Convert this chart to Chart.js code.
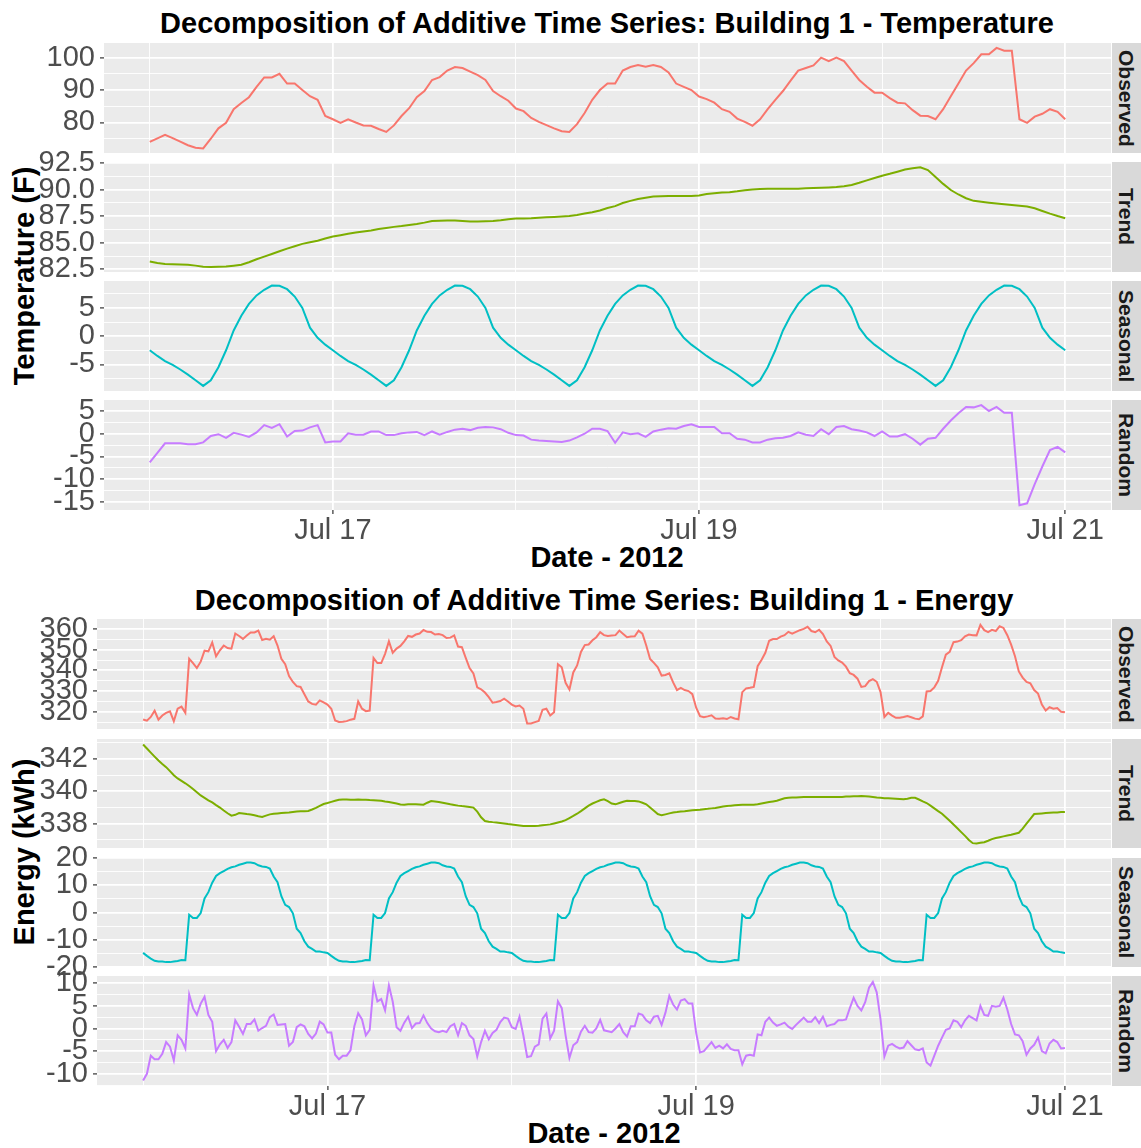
<!DOCTYPE html>
<html>
<head>
<meta charset="utf-8">
<title>Decomposition of Additive Time Series: Building 1</title>
<script src="https://cdn.jsdelivr.net/npm/chart.js@4.4.1/dist/chart.umd.min.js"></script>
<style>
  html, body { margin: 0; padding: 0; background: #fff; }
  #page { position: relative; width: 1141px; height: 1148px; overflow: hidden; background: #fff;
          font-family: "Liberation Sans", Arial, sans-serif; }
  #page canvas { position: absolute; left: 0; }
  .title, .xlab, .ylab { position: absolute; font-weight: bold; font-size: 29px; line-height: 1;
          color: #000; white-space: nowrap; }
  .title, .xlab { transform: translate(-50%, -50%); }
  .ylab { transform: translate(-50%, -50%) rotate(-90deg); }
  .strip { position: absolute; left: 1112px; width: 29px; background: #D9D9D9;
           display: flex; align-items: center; justify-content: center; }
  .strip span { writing-mode: vertical-rl; font-weight: bold; font-size: 21px; line-height: 1; color: #1A1A1A; }
</style>
</head>
<body>
<div id="page">
  <div class="title" style="left:607px;top:23px">Decomposition of Additive Time Series: Building 1 - Temperature</div>
  <div class="ylab" style="left:24px;top:276px">Temperature (F)</div>
  <div class="xlab" style="left:607px;top:557px">Date - 2012</div>

  <div class="title" style="left:604px;top:600px">Decomposition of Additive Time Series: Building 1 - Energy</div>
  <div class="ylab" style="left:24px;top:852px">Energy (kWh)</div>
  <div class="xlab" style="left:604px;top:1133px">Date - 2012</div>
</div>
<script>
// hourly temperature components, Jul 16 00:00 .. Jul 21 00:00
const tempObserved = [
  74.0, 75.1, 76.2, 75.2, 74.1, 73.0, 72.2, 72.0, 75.0, 78.2,
  79.9, 84.1, 86.0, 87.8, 91.0, 93.9, 93.9, 95.0, 92.0, 92.0,
  90.0, 88.1, 87.0, 82.0, 81.0, 79.9, 81.0, 80.0, 79.1, 79.0,
  78.0, 77.1, 79.1, 82.0, 84.4, 87.8, 89.7, 93.1, 94.0, 96.0,
  97.1, 96.8, 95.7, 94.6, 93.1, 89.7, 88.1, 86.7, 84.3, 83.5,
  81.4, 80.2, 79.2, 78.2, 77.3, 77.1, 79.5, 82.9, 87.0, 90.0,
  92.0, 92.0, 96.0, 97.1, 97.7, 97.2, 97.7, 97.1, 95.4, 92.0,
  91.0, 90.0, 88.0, 87.2, 86.1, 84.1, 83.3, 81.2, 80.2, 79.0,
  81.0, 84.1, 87.0, 89.7, 92.9, 96.0, 96.8, 97.6, 100.0, 98.9,
  100.0, 98.9, 96.0, 93.1, 91.0, 89.2, 89.2, 87.5, 86.1, 85.9,
  83.8, 82.1, 82.0, 81.0, 84.1, 88.1, 92.0, 96.0, 98.3, 101.0,
  101.0, 103.0, 102.1, 102.1, 81.0, 79.9, 81.8, 82.7, 84.1, 83.3, 81.0
];
const tempTrend = [
  83.24, 83.10, 83.00, 82.97, 82.95, 82.93, 82.85, 82.75, 82.72, 82.74,
  82.76, 82.84, 82.93, 83.17, 83.45, 83.70, 83.95, 84.20, 84.45, 84.68,
  84.90, 85.05, 85.20, 85.40, 85.59, 85.72, 85.86, 85.96, 86.06, 86.16,
  86.30, 86.40, 86.50, 86.58, 86.68, 86.78, 86.90, 87.05, 87.08, 87.10,
  87.10, 87.05, 87.00, 87.00, 87.02, 87.05, 87.12, 87.22, 87.28, 87.30,
  87.31, 87.36, 87.40, 87.44, 87.48, 87.52, 87.62, 87.75, 87.88, 88.05,
  88.28, 88.45, 88.75, 88.95, 89.12, 89.25, 89.35, 89.39, 89.41, 89.41,
  89.41, 89.41, 89.45, 89.60, 89.67, 89.73, 89.77, 89.85, 89.96, 90.02,
  90.06, 90.08, 90.10, 90.10, 90.10, 90.10, 90.13, 90.16, 90.19, 90.22,
  90.26, 90.33, 90.45, 90.65, 90.88, 91.10, 91.32, 91.50, 91.70, 91.90,
  92.03, 92.12, 91.85, 91.20, 90.55, 89.97, 89.55, 89.20, 88.95, 88.86,
  88.78, 88.70, 88.62, 88.55, 88.48, 88.41, 88.26, 88.00, 87.75, 87.52, 87.31
];
const tempSeasonal = [
  -2.5, -3.5, -4.4, -5.1, -5.9, -6.8, -7.8, -8.8, -7.8, -5.5, -2.5, 1.0, 3.6, 5.7, 7.2, 8.2, 8.95, 8.9, 8.3, 7.0, 5.0, 1.5, -0.3, -1.5,
  -2.5, -3.5, -4.4, -5.1, -5.9, -6.8, -7.8, -8.8, -7.8, -5.5, -2.5, 1.0, 3.6, 5.7, 7.2, 8.2, 8.95, 8.9, 8.3, 7.0, 5.0, 1.5, -0.3, -1.5,
  -2.5, -3.5, -4.4, -5.1, -5.9, -6.8, -7.8, -8.8, -7.8, -5.5, -2.5, 1.0, 3.6, 5.7, 7.2, 8.2, 8.95, 8.9, 8.3, 7.0, 5.0, 1.5, -0.3, -1.5,
  -2.5, -3.5, -4.4, -5.1, -5.9, -6.8, -7.8, -8.8, -7.8, -5.5, -2.5, 1.0, 3.6, 5.7, 7.2, 8.2, 8.95, 8.9, 8.3, 7.0, 5.0, 1.5, -0.3, -1.5,
  -2.5, -3.5, -4.4, -5.1, -5.9, -6.8, -7.8, -8.8, -7.8, -5.5, -2.5, 1.0, 3.6, 5.7, 7.2, 8.2, 8.95, 8.9, 8.3, 7.0, 5.0, 1.5, -0.3, -1.5,
  -2.5
];
const tempRandom = [
  -6.3, -4.2, -2.1, -2.1, -2.1, -2.3, -2.3, -1.9, -0.5, -0.1,
  -0.9, 0.2, -0.2, -0.7, 0.3, 1.9, 1.3, 2.1, -0.6, 0.6,
  0.7, 1.4, 1.9, -1.9, -1.7, -1.7, 0.1, -0.2, -0.2, 0.5,
  0.5, -0.3, -0.3, 0.1, 0.3, 0.4, -0.3, 0.5, -0.2, 0.4,
  0.9, 1.1, 0.8, 1.3, 1.5, 1.4, 1.0, 0.2, -0.3, -0.4,
  -1.3, -1.5, -1.6, -1.7, -1.8, -1.5, -0.8, 0.0, 1.1, 1.1,
  0.6, -2.0, 0.3, -0.1, 0.1, -0.7, 0.5, 0.9, 1.2, 1.1,
  1.7, 2.1, 1.5, 1.5, 1.5, 0.1, 0.1, -1.1, -1.3, -1.9,
  -1.9, -1.3, -1.0, -0.9, -0.5, 0.3, -0.2, -0.5, 1.0, -0.1,
  1.5, 1.7, 1.0, 0.7, 0.3, -0.5, 0.5, -0.6, -0.6, -0.1,
  -1.1, -2.4, -1.1, -0.9, 1.1, 2.9, 4.5, 5.9, 5.8, 6.3,
  5.0, 5.9, 4.6, 4.6, -15.7, -15.3, -11.1, -7.2, -3.6, -2.9, -4.1
];

// half-hourly energy components over the same five days
const energyObserved = [
  316.3, 315.7, 317.5, 320.5, 316.2, 318.2, 319.5, 320.2, 315.5, 321.5,
  322.5, 319.5, 345.6, 343.5, 341.1, 344.2, 349.5, 349.2, 353.5, 346.8,
  349.7, 352.0, 350.8, 350.5, 357.8, 356.6, 355.2, 356.8, 358.3, 358.3,
  359.2, 354.7, 355.3, 354.8, 356.5, 352.0, 345.6, 343.0, 337.2, 334.4,
  332.4, 332.0, 328.5, 325.0, 323.8, 323.4, 325.5, 324.5, 323.5, 321.5,
  315.8, 315.1, 315.2, 315.5, 316.2, 316.6, 325.0, 321.5, 320.3, 320.6,
  346.0, 343.5, 343.5, 348.0, 354.0, 348.5, 350.5, 351.8, 354.0, 356.6,
  356.2, 357.3, 357.8, 359.5, 358.6, 358.5, 357.3, 357.5, 357.0, 355.6,
  355.8, 356.9, 351.5, 351.2, 346.0, 341.1, 338.5, 331.8, 330.9, 329.3,
  327.1, 324.4, 324.7, 325.2, 326.3, 325.0, 323.5, 322.6, 323.0, 321.5,
  314.4, 314.4, 315.0, 315.6, 321.0, 321.5, 318.2, 319.8, 343.0, 341.5,
  334.0, 330.8, 339.0, 342.4, 348.9, 352.2, 352.5, 354.5, 356.0, 358.4,
  357.0, 356.6, 356.8, 357.0, 359.2, 357.6, 356.0, 356.3, 356.4, 359.2,
  357.7, 352.0, 345.5, 343.6, 341.5, 337.5, 337.8, 338.6, 334.2, 330.5,
  331.5, 330.5, 330.0, 328.5, 322.0, 317.9, 317.4, 317.8, 318.3, 316.8,
  316.6, 316.9, 316.5, 317.5, 316.8, 316.4, 329.5, 331.3, 331.6, 332.0,
  342.0, 345.0, 348.5, 354.3, 355.1, 355.1, 356.3, 357.0, 358.6, 357.7,
  358.6, 359.4, 360.0, 361.0, 359.0, 358.4, 359.6, 357.5, 354.0, 351.8,
  346.5, 344.8, 343.8, 341.8, 338.6, 337.8, 336.0, 332.0, 332.4, 334.8,
  335.8, 334.5, 329.5, 317.5, 319.5, 318.2, 317.1, 317.1, 317.5, 318.0,
  317.4, 316.7, 316.4, 317.8, 329.8, 330.0, 331.8, 335.0, 341.5, 347.6,
  348.9, 353.6, 353.9, 354.6, 356.4, 357.3, 357.0, 356.9, 362.0, 359.4,
  358.5, 359.6, 359.0, 361.3, 360.5, 357.0, 352.4, 346.8, 339.5, 336.5,
  334.4, 333.8, 330.5, 328.8, 323.5, 320.6, 322.2, 321.5, 321.8, 320.0, 319.8
];
const energyTrend = [
  342.90, 342.65, 342.40, 342.15, 341.91, 341.70, 341.50, 341.25, 341.00, 340.80,
  340.65, 340.50, 340.33, 340.15, 339.95, 339.75, 339.60, 339.45, 339.32, 339.15,
  339.00, 338.82, 338.65, 338.50, 338.55, 338.66, 338.64, 338.60, 338.57, 338.52,
  338.46, 338.42, 338.50, 338.58, 338.62, 338.64, 338.66, 338.68, 338.70, 338.73,
  338.76, 338.77, 338.78, 338.79, 338.88, 338.98, 339.10, 339.22, 339.28, 339.35,
  339.42, 339.48, 339.50, 339.50, 339.49, 339.49, 339.50, 339.49, 339.49, 339.47,
  339.46, 339.44, 339.42, 339.38, 339.35, 339.30, 339.25, 339.19, 339.18, 339.20,
  339.20, 339.20, 339.19, 339.18, 339.30, 339.40, 339.38, 339.35, 339.30, 339.25,
  339.20, 339.16, 339.12, 339.09, 339.07, 339.04, 339.00, 338.75, 338.40, 338.17,
  338.13, 338.10, 338.08, 338.05, 338.02, 337.98, 337.95, 337.92, 337.89, 337.86,
  337.86, 337.86, 337.86, 337.87, 337.90, 337.93, 337.96, 338.02, 338.08, 338.14,
  338.22, 338.35, 338.48, 338.62, 338.78, 338.95, 339.12, 339.25, 339.35, 339.45,
  339.51, 339.40, 339.25, 339.20, 339.28, 339.36, 339.42, 339.41, 339.40, 339.38,
  339.30, 339.20, 339.00, 338.80, 338.60, 338.52, 338.58, 338.64, 338.70, 338.72,
  338.75, 338.77, 338.80, 338.83, 338.85, 338.87, 338.90, 338.92, 338.95, 338.98,
  339.02, 339.06, 339.09, 339.12, 339.14, 339.16, 339.18, 339.18, 339.18, 339.18,
  339.20, 339.25, 339.30, 339.34, 339.38, 339.42, 339.50, 339.57, 339.60, 339.62,
  339.63, 339.64, 339.65, 339.65, 339.66, 339.65, 339.65, 339.65, 339.66, 339.66,
  339.65, 339.66, 339.66, 339.68, 339.69, 339.70, 339.70, 339.71, 339.70, 339.68,
  339.65, 339.62, 339.60, 339.58, 339.57, 339.56, 339.55, 339.53, 339.51, 339.55,
  339.60, 339.60, 339.50, 339.38, 339.28, 339.12, 338.95, 338.78, 338.62, 338.40,
  338.18, 337.95, 337.72, 337.48, 337.25, 337.00, 336.80, 336.78, 336.82, 336.86,
  336.95, 337.05, 337.12, 337.17, 337.22, 337.27, 337.32, 337.38, 337.44, 337.70,
  338.00, 338.30, 338.60, 338.62, 338.64, 338.66, 338.68, 338.69, 338.70, 338.72, 338.73
];
const energySeasonal = [
  -14.9, -16.0, -17.0, -17.8, -18.1, -18.1, -18.3, -18.3, -18.1, -17.9, -17.5, -17.6,
  -0.8, -2.0, -2.0, -0.2, 5.2, 7.5, 11.0, 13.5, 14.5, 15.3, 16.1, 16.7,
  17.0, 17.6, 18.0, 18.4, 18.4, 18.2, 17.4, 17.0, 16.8, 16.2, 13.3, 11.2,
  6.0, 2.8, 2.0, -0.3, -6.0, -7.6, -10.6, -12.6, -13.4, -14.4, -14.4, -14.7,
  -14.9, -16.0, -17.0, -17.8, -18.1, -18.1, -18.3, -18.3, -18.1, -17.9, -17.5, -17.6,
  -0.8, -2.0, -2.0, -0.2, 5.2, 7.5, 11.0, 13.5, 14.5, 15.3, 16.1, 16.7,
  17.0, 17.6, 18.0, 18.4, 18.4, 18.2, 17.4, 17.0, 16.8, 16.2, 13.3, 11.2,
  6.0, 2.8, 2.0, -0.3, -6.0, -7.6, -10.6, -12.6, -13.4, -14.4, -14.4, -14.7,
  -14.9, -16.0, -17.0, -17.8, -18.1, -18.1, -18.3, -18.3, -18.1, -17.9, -17.5, -17.6,
  -0.8, -2.0, -2.0, -0.2, 5.2, 7.5, 11.0, 13.5, 14.5, 15.3, 16.1, 16.7,
  17.0, 17.6, 18.0, 18.4, 18.4, 18.2, 17.4, 17.0, 16.8, 16.2, 13.3, 11.2,
  6.0, 2.8, 2.0, -0.3, -6.0, -7.6, -10.6, -12.6, -13.4, -14.4, -14.4, -14.7,
  -14.9, -16.0, -17.0, -17.8, -18.1, -18.1, -18.3, -18.3, -18.1, -17.9, -17.5, -17.6,
  -0.8, -2.0, -2.0, -0.2, 5.2, 7.5, 11.0, 13.5, 14.5, 15.3, 16.1, 16.7,
  17.0, 17.6, 18.0, 18.4, 18.4, 18.2, 17.4, 17.0, 16.8, 16.2, 13.3, 11.2,
  6.0, 2.8, 2.0, -0.3, -6.0, -7.6, -10.6, -12.6, -13.4, -14.4, -14.4, -14.7,
  -14.9, -16.0, -17.0, -17.8, -18.1, -18.1, -18.3, -18.3, -18.1, -17.9, -17.5, -17.6,
  -0.8, -2.0, -2.0, -0.2, 5.2, 7.5, 11.0, 13.5, 14.5, 15.3, 16.1, 16.7,
  17.0, 17.6, 18.0, 18.4, 18.4, 18.2, 17.4, 17.0, 16.8, 16.2, 13.3, 11.2,
  6.0, 2.8, 2.0, -0.3, -6.0, -7.6, -10.6, -12.6, -13.4, -14.4, -14.4, -14.7,
  -14.9
];
const energyRandom = [
  -11.5, -10.0, -6.0, -6.8, -6.8, -5.6, -3.0, -4.0, -7.0, -1.5,
  -2.5, -4.4, 7.5, 4.5, 3.0, 5.5, 7.0, 3.0, 1.5, -5.0,
  -3.5, -2.5, -4.3, -3.0, 1.8, 0.4, -1.2, 1.0, 1.0, 2.0,
  -0.5, 0.1, 0.6, 2.5, 3.1, 0.8, 0.9, 1.0, -3.8, -3.0,
  0.3, 0.9, 0.5, -1.2, -2.2, -1.1, 1.5, 0.9, -0.9, -0.9,
  -5.8, -6.8, -6.0, -6.0, -4.8, 0.5, 3.4, 2.0, -1.5, -0.3,
  9.5, 6.0, 6.5, 4.0, 9.5, 5.9, 0.3, -0.5, 1.3, 2.6,
  0.1, 1.1, 1.2, 2.9, 1.2, 0.0, -0.6, -0.8, -0.5, -0.8,
  0.5, 1.0, -1.5, 1.2, 0.6, -1.5, -2.3, -6.2, -3.0, -0.5,
  -2.4, -1.0, -0.3, 1.4, 2.4, 2.2, 0.3, -0.1, 2.6, -1.5,
  -6.3, -6.1, -4.0, -3.5, 2.2, 3.3, -2.2, -0.5, 6.0, 4.5,
  -1.5, -6.5, -3.7, -3.0, -0.7, 0.6, -0.8, -0.9, 0.0, 1.9,
  -0.4, -0.6, -0.8, 0.0, 1.0, -0.8, -1.8, 0.5, 0.5, 3.3,
  3.0, 1.8, 1.2, 2.6, 2.8, 0.8, 3.5, 7.2, 5.3, 4.2,
  6.2, 6.5, 5.5, 5.5, -1.0, -5.3, -5.0, -4.0, -3.0, -4.3,
  -3.8, -4.4, -3.5, -4.5, -4.8, -4.8, -7.9, -6.0, -5.8, -6.0,
  -1.3, -1.5, 1.5, 2.4, 1.3, 0.6, 0.9, 1.3, 0.4, -0.1,
  0.8, 1.6, 2.4, 1.5, 1.5, 2.5, 1.2, 2.6, 0.5, 0.8,
  1.0, 1.8, 1.8, 2.0, 4.5, 6.8, 5.0, 4.0, 5.8, 9.0,
  10.3, 8.0, 2.0, -6.2, -3.8, -3.4, -4.0, -4.4, -4.2, -2.8,
  -3.7, -4.6, -4.8, -4.4, -7.5, -8.2, -6.0, -3.8, -2.0, -0.3,
  0.0, 1.8, 1.5, 0.3, 1.8, 2.8, 2.3, 1.8, 5.0, 3.0,
  2.8, 5.0, 4.8, 5.0, 6.8, 4.2, 1.0, -1.3, -1.5, -2.8,
  -5.8, -4.4, -3.6, -2.0, -5.0, -5.5, -3.3, -2.5, -3.0, -4.4, -4.3
];

const componentNames = ['Observed', 'Trend', 'Seasonal', 'Random'];

// x axis: hours since Jul 16 00:00
const xTickHours = [24, 72, 120];
const xTickLabels = ['Jul 17', 'Jul 19', 'Jul 21'];

const tempObservedTicks = [80, 90, 100];
const tempTrendTicks = [82.5, 85, 87.5, 90, 92.5];
const tempSeasonalTicks = [-5, 0, 5];
const tempRandomTicks = [-15, -10, -5, 0, 5];
const energyObservedTicks = [320, 330, 340, 350, 360];
const energyTrendTicks = [338, 340, 342];
const energySeasonalTicks = [-20, -10, 0, 10, 20];
const energyRandomTicks = [-10, -5, 0, 5, 10];

const LINE_COLORS = ['#F8766D', '#7CAE00', '#00BFC4', '#C77CFF'];
const X_MIN = -6, X_MAX = 126;
const PANEL_RIGHT = 1111;
const PAD = 26;
const X_AXIS_H = 44;
const TICK_FONT = { family: 'Liberation Sans', size: 29 };

const page = document.getElementById('page');

// grey panel background behind the grid
const panelBg = {
  id: 'panelBg',
  beforeDraw(chart) {
    const a = chart.chartArea, ctx = chart.ctx;
    ctx.save();
    ctx.fillStyle = '#EBEBEB';
    ctx.fillRect(a.left, a.top, a.right - a.left, a.bottom - a.top);
    ctx.restore();
  }
};

// major breaks plus the minor breaks halfway between them
function withMinors(major, min, max) {
  const step = (major[1] - major[0]) / 2;
  const out = [];
  for (let k = -1; k <= (major.length - 1) * 2 + 1; k++) {
    const v = major[0] + k * step;
    if (v < min || v > max) continue;
    out.push({ value: v, minor: k % 2 !== 0 });
  }
  return out;
}

function addStrip(name, top, height) {
  const d = document.createElement('div');
  d.className = 'strip';
  d.style.top = top + 'px';
  d.style.height = height + 'px';
  const s = document.createElement('span');
  s.textContent = name;
  d.appendChild(s);
  page.appendChild(d);
}

function addPanel(p) {
  const padBottom = p.showX ? 0 : PAD;
  const xH = p.showX ? X_AXIS_H : 0;
  const cv = document.createElement('canvas');
  cv.width = PANEL_RIGHT;
  cv.height = PAD + p.height + padBottom + xH;
  cv.style.top = (p.top - PAD) + 'px';
  page.appendChild(cv);

  const yTicks = withMinors(p.ticks, p.min, p.max);
  const xTicks = withMinors(xTickHours, X_MIN, X_MAX);
  const isMinor = c => c.tick && c.tick.minor;

  new Chart(cv, {
    type: 'line',
    data: {
      datasets: [{
        data: p.values.map((v, i) => ({ x: i * p.step, y: v })),
        borderColor: p.color,
        borderWidth: 2,
        pointRadius: 0,
        tension: 0,
        fill: false
      }]
    },
    options: {
      responsive: false,
      devicePixelRatio: 1,
      animation: false,
      events: [],
      layout: { padding: { top: PAD, bottom: padBottom, left: 0, right: 0 } },
      plugins: { legend: { display: false }, tooltip: { enabled: false } },
      scales: {
        x: {
          type: 'linear',
          min: X_MIN,
          max: X_MAX,
          afterBuildTicks: s => { s.ticks = xTicks.map(t => ({ ...t })); },
          afterFit: s => { s.height = xH; },
          border: { display: false },
          grid: {
            color: '#FFFFFF',
            lineWidth: c => isMinor(c) ? 0.9 : 1.8,
            drawTicks: p.showX,
            tickLength: 4,
            tickWidth: 1.2,
            tickColor: c => isMinor(c) ? 'rgba(0,0,0,0)' : '#333333'
          },
          ticks: {
            display: p.showX,
            autoSkip: false,
            maxRotation: 0,
            padding: 0,
            color: '#4D4D4D',
            font: TICK_FONT,
            callback: (v, i, ts) => {
              const k = xTickHours.indexOf(v);
              return k >= 0 ? xTickLabels[k] : '';
            }
          }
        },
        y: {
          type: 'linear',
          min: p.min,
          max: p.max,
          afterBuildTicks: s => { s.ticks = yTicks.map(t => ({ ...t })); },
          afterFit: s => { s.width = p.left; },
          border: { display: false },
          grid: {
            color: '#FFFFFF',
            lineWidth: c => isMinor(c) ? 0.9 : 1.8,
            drawTicks: true,
            tickLength: 4,
            tickWidth: 1.2,
            tickColor: c => isMinor(c) ? 'rgba(0,0,0,0)' : '#333333'
          },
          ticks: {
            autoSkip: false,
            padding: 5,
            color: '#4D4D4D',
            font: TICK_FONT,
            callback: (v, i, ts) => ts[i].minor ? '' : v.toFixed(p.decimals)
          }
        }
      }
    },
    plugins: [panelBg]
  });
}

// temperature decomposition (hourly)
const tempPanels = [
  { values: tempObserved, ticks: tempObservedTicks, min: 70.6, max: 104.5, decimals: 0, top: 43, height: 110 },
  { values: tempTrend, ticks: tempTrendTicks, min: 82.25, max: 92.61, decimals: 1, top: 162, height: 110 },
  { values: tempSeasonal, ticks: tempSeasonalTicks, min: -9.7, max: 9.75, decimals: 0, top: 281, height: 110 },
  { values: tempRandom, ticks: tempRandomTicks, min: -16.77, max: 7.42, decimals: 0, top: 400, height: 110 }
];
tempPanels.forEach((p, k) => {
  addPanel(Object.assign({ step: 1, left: 104, color: LINE_COLORS[k], showX: k === 3 }, p));
  addStrip(componentNames[k], p.top, p.height);
});

// energy decomposition (half-hourly)
const energyPanels = [
  { values: energyObserved, ticks: energyObservedTicks, min: 311.7, max: 364.8, decimals: 0, top: 619, height: 110 },
  { values: energyTrend, ticks: energyTrendTicks, min: 336.5, max: 343.24, decimals: 0, top: 739, height: 109 },
  { values: energySeasonal, ticks: energySeasonalTicks, min: -20.1, max: 20.1, decimals: 0, top: 858, height: 109 },
  { values: energyRandom, ticks: energyRandomTicks, min: -12.7, max: 11.6, decimals: 0, top: 976, height: 110 }
];
energyPanels.forEach((p, k) => {
  addPanel(Object.assign({ step: 0.5, left: 97, color: LINE_COLORS[k], showX: k === 3 }, p));
  addStrip(componentNames[k], p.top, p.height);
});
</script>
</body>
</html>
